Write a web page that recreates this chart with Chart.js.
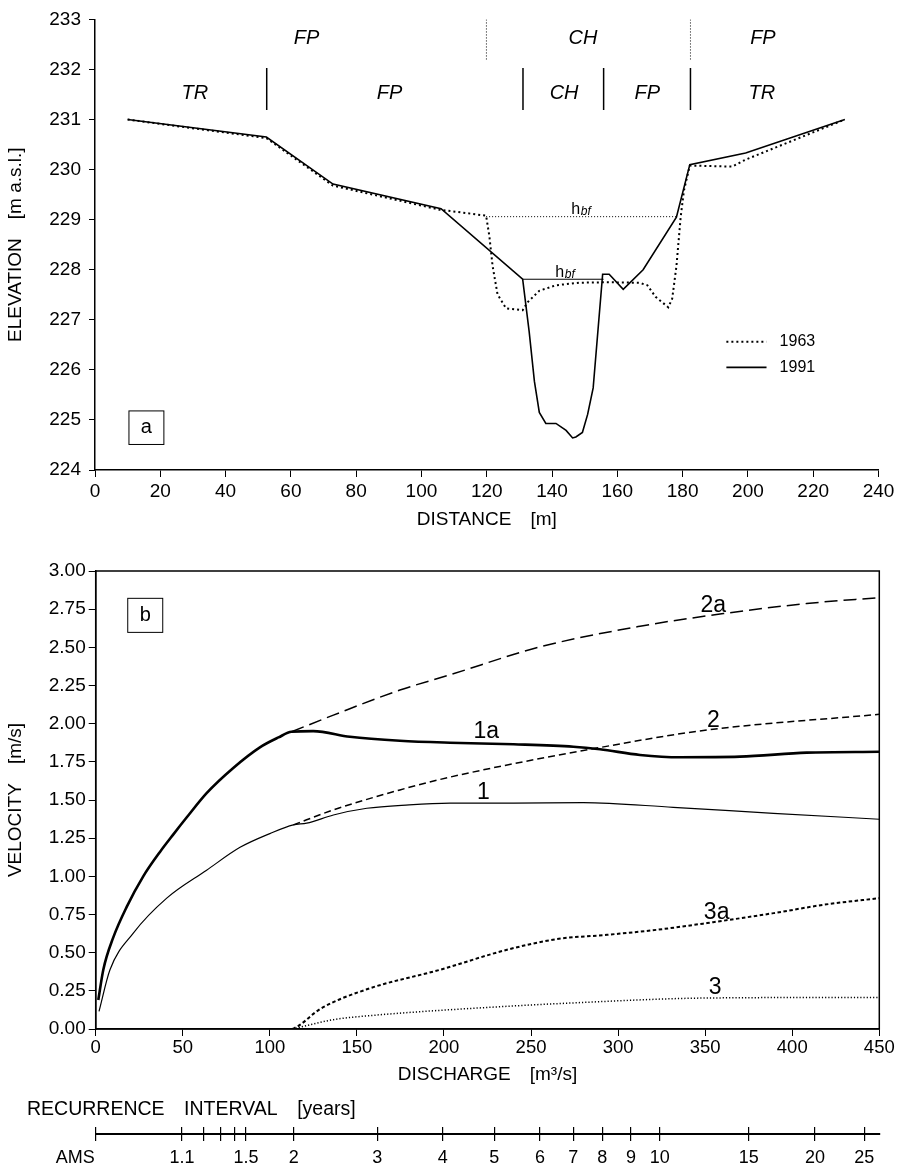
<!DOCTYPE html>
<html>
<head>
<meta charset="utf-8">
<script src="https://cdn.jsdelivr.net/npm/chart.js@4/dist/chart.umd.min.js"></script>
<style>
  body { margin: 0; background: #fff; }
  #page { position: relative; width: 898px; height: 1171px; background: #fff; }
  canvas { position: absolute; left: 0; }
</style>
</head>
<body>
<div id="page">
  <canvas id="profile" width="898" height="540" style="top:0px"></canvas>
  <canvas id="velocity" width="898" height="540" style="top:550px"></canvas>
  <canvas id="recurrence" width="898" height="81" style="top:1090px"></canvas>
</div>
<script>
// ---- panel a: cross-section (distance [m] / elevation [m a.s.l.])
const dist1963 = [10, 52.5, 72.9, 105.5, 119.8, 120.8, 121.8, 123.3, 125.9, 131, 132.5, 136.1, 141.2, 148.3, 156.5, 166.7, 169.2, 171.7, 175.6, 176.8, 178.1, 179.4, 180.4, 182.2, 195.2, 199.3, 229.7];
const elev1963 = [231.0, 230.63, 229.68, 229.2, 229.08, 228.67, 228.07, 227.51, 227.23, 227.19, 227.35, 227.58, 227.69, 227.74, 227.75, 227.74, 227.69, 227.46, 227.25, 227.42, 228.07, 229.05, 229.58, 230.08, 230.06, 230.2, 231.0];
const dist1991 = [10, 52.5, 72.9, 106, 131, 133, 134.6, 136.1, 138.1, 141.2, 144.3, 146.3, 147.3, 149.3, 150.9, 152.6, 155.5, 157.5, 161.8, 167.9, 178.1, 182.2, 199.3, 229.7];
const elev1991 = [231.0, 230.65, 229.71, 229.22, 227.81, 226.76, 225.77, 225.15, 224.93, 224.93, 224.79, 224.64, 224.66, 224.75, 225.11, 225.64, 227.91, 227.91, 227.61, 228.0, 229.05, 230.1, 230.33, 231.0];
const hbfDist1963 = [119.8, 178.5];
const hbfElev1963 = [229.06, 229.06];
const hbfDist1991 = [131, 155.8];
const hbfElev1991 = [227.81, 227.81];

// zone boundaries and names (upper row = 1963, lower row = 1991)
const zoneTopX = [119.9, 182.4];
const zoneTopRange = [232.2, 233];
const zoneBottomX = [52.6, 131.1, 155.8, 182.4];
const zoneBottomRange = [231.19, 232.03];
const zoneTopNames = ['FP', 'CH', 'FP'];
const zoneTopPos = [64.8, 149.5, 204.6];
const zoneBottomNames = ['TR', 'FP', 'CH', 'FP', 'TR'];
const zoneBottomPos = [30.6, 90.2, 143.7, 169.2, 204.3];

// ---- panel b: velocity [m/s] vs discharge [m3/s]
const q1a = [1.5, 4.4, 10.1, 17.8, 27.3, 36.9, 44.6, 52.2, 63.7, 79, 94.3, 105, 112.5, 124.9, 146, 174.7, 203.5, 240, 274.3, 289.6, 312.6, 335.6, 370, 408.3, 450];
const v1a = [0.19, 0.39, 0.6, 0.8, 1.0, 1.16, 1.275, 1.385, 1.545, 1.71, 1.845, 1.91, 1.947, 1.951, 1.914, 1.888, 1.875, 1.865, 1.849, 1.832, 1.795, 1.78, 1.784, 1.81, 1.816];
const q1 = [1.9, 8.2, 21.6, 40.8, 63.7, 82.9, 100, 113.5, 121.2, 136.5, 155.7, 180, 203.5, 240, 280, 331.7, 389.2, 450];
const v1 = [0.116, 0.388, 0.628, 0.857, 1.04, 1.19, 1.28, 1.337, 1.348, 1.402, 1.446, 1.468, 1.479, 1.48, 1.483, 1.452, 1.413, 1.374];
const q2a = [112.5, 136.5, 174.7, 203.5, 255.2, 312.6, 360.5, 408.3, 450];
const v2a = [1.947, 2.056, 2.22, 2.32, 2.503, 2.638, 2.721, 2.787, 2.826];
const q2 = [113.5, 136.5, 174.7, 203.5, 283.9, 350.9, 450];
const v2 = [1.337, 1.435, 1.566, 1.65, 1.832, 1.958, 2.061];
const q3a = [113, 116.4, 128.8, 155.7, 197.7, 236.2, 264.9, 293.7, 322.4, 351.1, 389.4, 418.2, 450];
const v3a = [0, 0.02, 0.13, 0.26, 0.388, 0.519, 0.589, 0.617, 0.65, 0.694, 0.759, 0.814, 0.857];
const q3 = [113, 136.5, 160, 197.7, 274.4, 351.1, 450];
const v3 = [0, 0.061, 0.09, 0.122, 0.171, 0.203, 0.207];

const curveNames = ['2a', '2', '1a', '1', '3a', '3'];
const curveNameQ = [354.7, 354.7, 224.3, 222.6, 356.6, 355.7];
const curveNameV = [2.773, 2.018, 1.946, 1.55, 0.759, 0.269];

// ---- recurrence interval axis (AMS), positions in discharge units
const recurrenceQ = [0, 49.6, 61.8, 71.8, 79.6, 86.3, 113.7, 161.7, 199.3, 228.9, 255.2, 274.3, 290.9, 307.4, 323.9, 375, 413.1, 441.4];
const recurrenceLabels = ['', '1.1', '', '', '', '1.5', '2', '3', '4', '5', '6', '7', '8', '9', '10', '15', '20', '25'];

const FAMILY = "'Liberation Sans', Arial, Helvetica, sans-serif";
Chart.defaults.font.family = FAMILY;
Chart.defaults.color = '#000';

const pts = (xs, ys) => xs.map((x, i) => ({ x: x, y: ys[i] }));

// vertical separators, broken with null gaps
function separators(xs, range) {
    const out = [];
    xs.forEach(x => {
        out.push({ x: x, y: range[0] }, { x: x, y: range[1] }, { x: x, y: null });
    });
    return out;
}

function hbfLabel(ctx, x, y) {
    ctx.textAlign = 'left';
    ctx.textBaseline = 'alphabetic';
    ctx.font = '16px ' + FAMILY;
    ctx.fillText('h', x, y);
    const w = ctx.measureText('h').width;
    ctx.font = 'italic 12px ' + FAMILY;
    ctx.fillText('bf', x + w + 0.5, y + 1);
}

function panelBox(ctx, xs, ys, box, letter) {
    const x0 = xs.getPixelForValue(box[0]), x1 = xs.getPixelForValue(box[1]);
    const y0 = ys.getPixelForValue(box[2]), y1 = ys.getPixelForValue(box[3]);
    ctx.lineWidth = 1;
    ctx.strokeStyle = '#000';
    ctx.setLineDash([]);
    ctx.strokeRect(x0, y0, x1 - x0, y1 - y0);
    ctx.font = '20px ' + FAMILY;
    ctx.textAlign = 'center';
    ctx.textBaseline = 'middle';
    ctx.fillText(letter, (x0 + x1) / 2, (y0 + y1) / 2);
}

// labels, legend and panel letter for panel a
const profileNotes = {
    id: 'profileNotes',
    afterDatasetsDraw(chart) {
        const ctx = chart.ctx;
        const xs = chart.scales.x, ys = chart.scales.y;
        ctx.save();
        ctx.fillStyle = '#000';
        ctx.font = 'italic 20px ' + FAMILY;
        ctx.textAlign = 'center';
        ctx.textBaseline = 'middle';
        zoneTopNames.forEach((t, i) => ctx.fillText(t, xs.getPixelForValue(zoneTopPos[i]), ys.getPixelForValue(232.61)));
        zoneBottomNames.forEach((t, i) => ctx.fillText(t, xs.getPixelForValue(zoneBottomPos[i]), ys.getPixelForValue(231.53)));

        hbfLabel(ctx, xs.getPixelForValue(145.9), ys.getPixelForValue(229.12));
        hbfLabel(ctx, xs.getPixelForValue(141.0), ys.getPixelForValue(227.86));

        // legend
        const legendY = [226.56, 226.05];
        [0, 1].forEach((di, i) => {
            const ds = chart.data.datasets[di];
            const y = ys.getPixelForValue(legendY[i]);
            ctx.beginPath();
            ctx.setLineDash(ds.borderDash || []);
            ctx.lineWidth = ds.borderWidth;
            ctx.strokeStyle = '#000';
            ctx.moveTo(xs.getPixelForValue(193.4), y);
            ctx.lineTo(xs.getPixelForValue(205.7), y);
            ctx.stroke();
            ctx.setLineDash([]);
            ctx.font = '16px ' + FAMILY;
            ctx.textAlign = 'left';
            ctx.textBaseline = 'middle';
            ctx.fillText(ds.label, xs.getPixelForValue(209.7), y);
        });

        panelBox(ctx, xs, ys, [10.4, 21.1, 225.18, 224.51], 'a');
        ctx.restore();
    }
};

const velocityNotes = {
    id: 'velocityNotes',
    afterDatasetsDraw(chart) {
        const ctx = chart.ctx;
        const xs = chart.scales.x, ys = chart.scales.y;
        const a = chart.chartArea;
        ctx.save();
        ctx.fillStyle = '#000';
        ctx.font = '23px ' + FAMILY;
        ctx.textAlign = 'center';
        ctx.textBaseline = 'middle';
        curveNames.forEach((t, i) => ctx.fillText(t, xs.getPixelForValue(curveNameQ[i]), ys.getPixelForValue(curveNameV[i])));
        panelBox(ctx, xs, ys, [18.4, 38.5, 2.821, 2.598], 'b');
        // closed frame
        ctx.lineWidth = 1.5;
        ctx.strokeRect(a.left, a.top, a.right - a.left, a.bottom - a.top);
        ctx.restore();
    }
};

const amsNote = {
    id: 'amsNote',
    afterDraw(chart) {
        const ctx = chart.ctx;
        ctx.save();
        ctx.fillStyle = '#000';
        ctx.font = '18px ' + FAMILY;
        ctx.textAlign = 'right';
        ctx.textBaseline = 'middle';
        ctx.fillText('AMS', chart.scales.x.getPixelForValue(0) - 1, chart.chartArea.bottom + 24);
        ctx.restore();
    }
};

const axisLine = { color: '#000', width: 1.5 };

new Chart(document.getElementById('profile'), {
    type: 'line',
    data: {
        datasets: [
            { label: '1963', data: pts(dist1963, elev1963), borderColor: '#000', borderWidth: 2, borderDash: [2, 3] },
            { label: '1991', data: pts(dist1991, elev1991), borderColor: '#000', borderWidth: 1.6 },
            { label: 'hbf 1963', data: pts(hbfDist1963, hbfElev1963), borderColor: '#000', borderWidth: 1, borderDash: [1, 2] },
            { label: 'hbf 1991', data: pts(hbfDist1991, hbfElev1991), borderColor: '#000', borderWidth: 1 },
            { label: 'zones 1963', data: separators(zoneTopX, zoneTopRange), borderColor: '#000', borderWidth: 1, borderDash: [1, 2] },
            { label: 'zones 1991', data: separators(zoneBottomX, zoneBottomRange), borderColor: '#000', borderWidth: 1.5 }
        ]
    },
    options: {
        responsive: false,
        animation: false,
        layout: { padding: { top: 13, right: 19.5, left: 0, bottom: 0 } },
        elements: { point: { radius: 0 }, line: { tension: 0 } },
        plugins: { legend: { display: false }, tooltip: { enabled: false }, colors: { enabled: false } },
        scales: {
            x: {
                type: 'linear', min: 0, max: 240,
                ticks: { stepSize: 20, padding: 3, maxRotation: 0, font: { size: 19 } },
                grid: { drawOnChartArea: false, tickLength: 7, color: '#000' },
                border: axisLine,
                title: { display: true, text: 'DISTANCE\u2003[m]', font: { size: 19 }, padding: { top: 0, bottom: 9 } },
                afterFit: s => { s.height = 70; }
            },
            y: {
                type: 'linear', min: 224, max: 233,
                ticks: { stepSize: 1, padding: 8, font: { size: 19 } },
                grid: { drawOnChartArea: false, tickLength: 6, color: '#000' },
                border: axisLine,
                title: { display: true, text: 'ELEVATION\u2003[m a.s.l.]', font: { size: 19 }, padding: { top: 4.6, bottom: 0 } },
                afterFit: s => { s.width = 95; }
            }
        }
    },
    plugins: [profileNotes]
});

new Chart(document.getElementById('velocity'), {
    type: 'line',
    data: {
        datasets: [
            { label: '1a', data: pts(q1a, v1a), borderColor: '#000', borderWidth: 2.6 },
            { label: '1', data: pts(q1, v1), borderColor: '#000', borderWidth: 1.2 },
            { label: '2a', data: pts(q2a, v2a), borderColor: '#000', borderWidth: 1.5, borderDash: [13, 6] },
            { label: '2', data: pts(q2, v2), borderColor: '#000', borderWidth: 1.5, borderDash: [7, 4] },
            { label: '3a', data: pts(q3a, v3a), borderColor: '#000', borderWidth: 2, borderDash: [3.5, 2.5] },
            { label: '3', data: pts(q3, v3), borderColor: '#000', borderWidth: 1.5, borderDash: [1.2, 2] }
        ]
    },
    options: {
        responsive: false,
        animation: false,
        layout: { padding: { top: 21, right: 18.7, left: 0, bottom: 0 } },
        elements: { point: { radius: 0 }, line: { cubicInterpolationMode: 'monotone' } },
        plugins: { legend: { display: false }, tooltip: { enabled: false }, colors: { enabled: false } },
        scales: {
            x: {
                type: 'linear', min: 0, max: 450,
                ticks: { stepSize: 50, padding: 0.5, maxRotation: 0, font: { size: 18.5 } },
                grid: { drawOnChartArea: false, tickLength: 7, color: '#000' },
                border: axisLine,
                title: { display: true, text: 'DISCHARGE\u2003[m\u00b3/s]', font: { size: 19 }, padding: { top: 0, bottom: 3.6 } },
                afterFit: s => { s.height = 61; }
            },
            y: {
                type: 'linear', min: 0, max: 3,
                ticks: { stepSize: 0.25, padding: 3, font: { size: 19 }, callback: v => v.toFixed(2) },
                grid: { drawOnChartArea: false, tickLength: 7, color: '#000' },
                border: axisLine,
                title: { display: true, text: 'VELOCITY\u2003[m/s]', font: { size: 19 }, padding: { top: 4.6, bottom: 0 } },
                afterFit: s => { s.width = 95.7; }
            }
        }
    },
    plugins: [velocityNotes]
});

new Chart(document.getElementById('recurrence'), {
    type: 'line',
    data: { datasets: [] },
    options: {
        responsive: false,
        animation: false,
        layout: { padding: { top: 0, right: 18.7, left: 27, bottom: 0 } },
        plugins: {
            legend: { display: false },
            tooltip: { enabled: false },
            title: {
                display: true,
                text: 'RECURRENCE\u2003INTERVAL\u2003[years]',
                align: 'start',
                color: '#000',
                font: { size: 19.5, weight: 'normal' },
                padding: { top: 8.4, bottom: 5.2 }
            }
        },
        scales: {
            x: {
                type: 'linear', min: 0, max: 450,
                afterBuildTicks: s => { s.ticks = recurrenceQ.map(v => ({ value: v })); },
                ticks: { autoSkip: false, maxRotation: 0, padding: 6.2, font: { size: 18 }, callback: (v, i) => recurrenceLabels[i] },
                grid: { drawOnChartArea: true, drawTicks: true, tickLength: 7, color: '#000', lineWidth: 1.2 },
                border: { color: '#000', width: 2 },
                afterFit: s => { s.height = 37; }
            },
            y: {
                display: true,
                ticks: { display: false },
                grid: { display: false },
                border: { display: false },
                afterFit: s => { s.width = 68.7; }
            }
        }
    },
    plugins: [amsNote]
});
</script>
</body>
</html>
